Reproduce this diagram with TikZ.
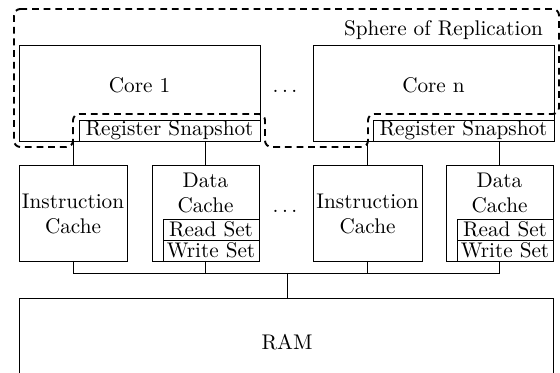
\documentclass[tikz,border=0pt]{standalone}
\newdimen\pxu
\pxu=0.4717pt
\begin{document}
\begin{tikzpicture}[x=0.4717pt,y=-0.4717pt,
  box/.style={draw,line width=0.45pt,rectangle,inner sep=0pt,outer sep=0pt},
  txt/.style={inner sep=0pt,outer sep=0pt,align=center},
  wire/.style={line width=0.45pt},
  sphere/.style={draw,line width=0.9pt,dash pattern=on 3.2pt off 2.3pt,rounded corners=3pt}]
\useasboundingbox (0,0) rectangle (560,373);
\clip (0,0) rectangle (560,373);
% sphere of replication
\draw[sphere] (14,9) -- (559,9) -- (559,114) -- (368,114) -- (368,147) -- (265,147) -- (265,114) -- (73,114) -- (73,147) -- (14,147) -- cycle;
\node[txt,anchor=east] (sorlabel) at (543,30) {Sphere of Replication};
% cores
\node[box,minimum width=241\pxu,minimum height=96\pxu] (core1) at (139.5,93) {};
\node[txt] (core1t) at (139.5,85) {Core 1};
\node[box,minimum width=181\pxu,minimum height=21\pxu] (snap1) at (169.5,130.5) {Register Snapshot};
\node[box,minimum width=241\pxu,minimum height=96\pxu] (coren) at (433.5,93) {};
\node[txt] (corent) at (433.5,85) {Core n};
\node[box,minimum width=181\pxu,minimum height=21\pxu] (snapn) at (463.5,130.5) {Register Snapshot};
\node[txt] (dots1) at (285,91) {$\dots$};
% caches
\node[box,minimum width=108\pxu,minimum height=96\pxu] (ic1) at (73,213) {};
\node[txt] (ic1t) at (73,214) {Instruction\\Cache};
\node[box,minimum width=107\pxu,minimum height=96\pxu] (dc1) at (205.5,213) {};
\node[txt] (dc1t) at (205.5,193) {Data\\Cache};
\node[box,minimum width=96\pxu,minimum height=21\pxu] (rs1) at (211,229.5) {Read Set};
\node[box,minimum width=96\pxu,minimum height=21\pxu] (ws1) at (211,250.5) {Write Set};
\node[txt] (dots2) at (285,211) {$\dots$};
\node[box,minimum width=109\pxu,minimum height=96\pxu] (icn) at (367.5,213) {};
\node[txt] (icnt) at (367.5,214) {Instruction\\Cache};
\node[box,minimum width=107\pxu,minimum height=96\pxu] (dcn) at (499.5,213) {};
\node[txt] (dcnt) at (499.5,193) {Data\\Cache};
\node[box,minimum width=96\pxu,minimum height=21\pxu] (rsn) at (505,229.5) {Read Set};
\node[box,minimum width=96\pxu,minimum height=21\pxu] (wsn) at (505,250.5) {Write Set};
% RAM
\node[box,minimum width=534\pxu,minimum height=88\pxu] (ram) at (286,342) {};
\node[txt] (ramt) at (287,342) {RAM};
% connectors
\draw[wire] (core1.south -| ic1.north) -- (ic1.north);
\draw[wire] (snap1.south -| dc1.north) -- (dc1.north);
\draw[wire] (coren.south -| icn.north) -- (icn.north);
\draw[wire] (snapn.south -| dcn.north) -- (dcn.north);
\coordinate (bus) at (287,273);
\draw[wire] (ic1.south) -- (ic1.south |- bus) -- (dcn.south |- bus) -- (dcn.south);
\draw[wire] (dc1.south) -- (dc1.south |- bus);
\draw[wire] (icn.south) -- (icn.south |- bus);
\draw[wire] (bus) -- (bus |- ram.north);
\end{tikzpicture}
\end{document}
